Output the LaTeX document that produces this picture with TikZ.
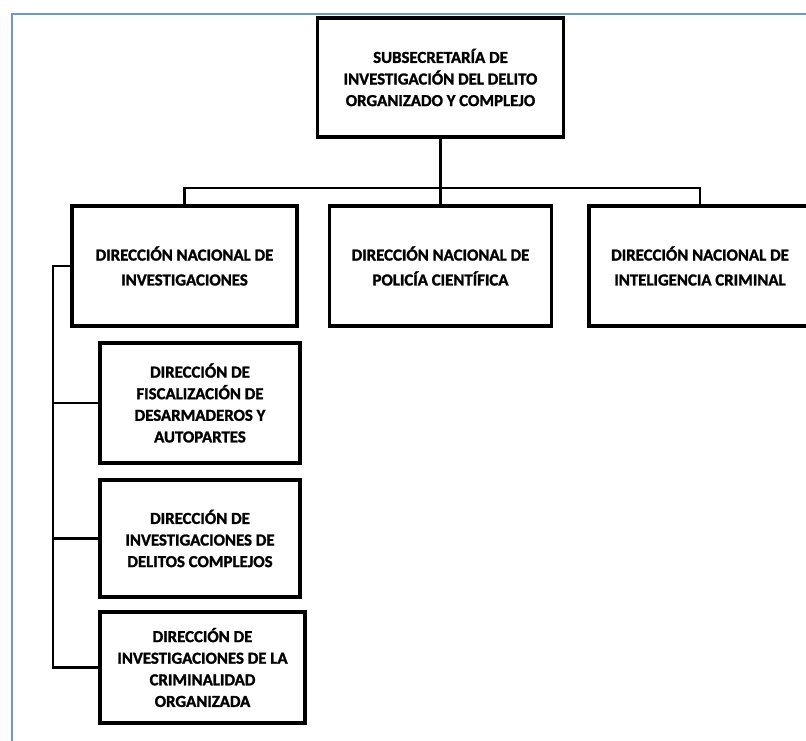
\documentclass[tikz,border=0pt]{standalone}
\usepackage{fontspec}
\setmainfont{Carlito}[BoldFeatures={FakeBold=1.5}]
\begin{document}
\begin{tikzpicture}[x=0.75pt,y=-0.75pt,
  unit/.style={draw=black,line width=2.5pt,fill=white,align=center,
    inner sep=0pt,font=\bfseries\fontsize{12.6}{16.2}\selectfont},
  link/.style={draw=black,line width=2.2pt}]
\useasboundingbox (0,0) rectangle (806,740);
\clip (0,0) rectangle (806,740);
\fill[white] (0,0) rectangle (806,740);
% page frame
\draw[color={rgb,255:red,108;green,152;blue,210},line width=2pt] (12,742) -- (12,14) -- (808,14);

% head unit
\node[unit,minimum width=184.5pt,minimum height=89.25pt] (top) at (440.5,77.5)
  {SUBSECRETARÍA DE\\INVESTIGACIÓN DEL DELITO\\ORGANIZADO Y COMPLEJO};

% national directorates
\node[unit,minimum width=168.75pt,minimum height=90pt] (n1) at (184.5,266)
  {DIRECCIÓN NACIONAL DE\\[2.5pt]INVESTIGACIONES};
\node[unit,minimum width=166.5pt,minimum height=90pt] (n2) at (440.5,266)
  {DIRECCIÓN NACIONAL DE\\[2.5pt]POLICÍA CIENTÍFICA};
\node[unit,minimum width=166.5pt,minimum height=90pt] (n3) at (700,266)
  {DIRECCIÓN NACIONAL DE\\[2.5pt]INTELIGENCIA CRIMINAL};

% directorates under investigations
\node[unit,minimum width=150pt,minimum height=90pt] (d1) at (200,403)
  {DIRECCIÓN DE\\FISCALIZACIÓN DE\\DESARMADEROS Y\\AUTOPARTES};
\node[unit,minimum width=150pt,minimum height=87.75pt] (d2) at (200,538.5)
  {DIRECCIÓN DE\\INVESTIGACIONES DE\\DELITOS COMPLEJOS};
\node[unit,minimum width=153.75pt,minimum height=83.25pt] (d3) at (202.5,667.5)
  {DIRECCIÓN DE\\INVESTIGACIONES DE LA\\CRIMINALIDAD\\ORGANIZADA};

% connectors
\coordinate (bar) at (0,188);
\coordinate (spine) at (53,0);
\draw[link] (top.south) -- (n2.north);
\draw[link] (n1.north) -- (n1.north |- bar) -- (n3.north |- bar) -- (n3.north);
\draw[link] (n1.west) -- (n1.west -| spine) -- (d3.west -| spine) -- (d3.west);
\draw[link] (d1.west -| spine) -- (d1.west);
\draw[link] (d2.west -| spine) -- (d2.west);
\end{tikzpicture}
\end{document}
